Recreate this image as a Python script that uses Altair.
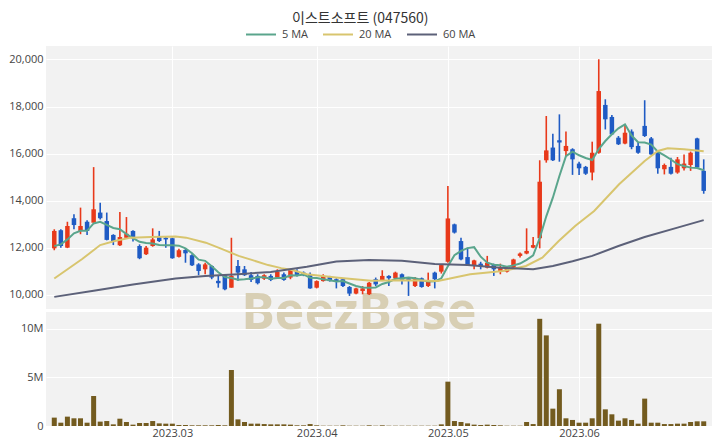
import altair as alt
import pandas as pd

title_text = "이스트소프트 (047560)"

opens = [11980, 12750, 12010, 13260, 12720, 13110, 13070, 13500, 13140, 12550,
         12110, 12430, 12720, 12080, 11730, 12080, 12460, 12430, 12410, 11620,
         11910, 11690, 11300, 11090, 11230, 10600, 10840, 10310, 11230, 11090,
         10840, 10810, 10690, 10810, 10740, 10880, 10740, 11020, 10950, 10880,
         10310, 10590, 10760, 10670, 10670, 10340, 10060, 10170, 10030, 10670,
         10620, 10810, 10710, 10880, 10710, 10380, 10710, 10380, 10950, 10990,
         11410, 13000, 12290, 11610, 11230, 11330, 11160, 11300, 11020, 10990,
         11160, 11660, 11760, 12010, 12410, 15720, 16260, 16570, 16110, 16190,
         15580, 15440, 15200, 16040, 18070, 17560, 16680, 16430, 16940, 16330,
         17180, 16650, 16040, 15340, 15440, 15200, 15380, 15520, 16650, 15270]
highs = [12790, 12790, 13110, 13430, 13710, 13170, 15430, 13920, 13500, 12580,
         13520, 13310, 12750, 12150, 12080, 12830, 12720, 12510, 12430, 11960,
         11970, 11730, 11350, 11370, 11260, 10810, 10880, 12430, 11490, 11230,
         10980, 10880, 10880, 10880, 11090, 10950, 11120, 11090, 11000, 10950,
         10620, 10880, 10810, 10710, 10710, 10380, 10310, 10380, 10550, 10740,
         11050, 10840, 10990, 10910, 10760, 10760, 10740, 10950, 10990, 11300,
         14630, 13030, 12430, 12010, 11500, 11410, 11660, 11330, 11330, 11200,
         11540, 11800, 12830, 12460, 15720, 17600, 16850, 17670, 16940, 16230,
         15660, 15480, 16510, 20010, 18310, 17640, 16750, 17250, 17030, 16470,
         18270, 16710, 16120, 15580, 15830, 15860, 15970, 16090, 16680, 15760]
lows = [11900, 12010, 11990, 12790, 12580, 12550, 13070, 13210, 12320, 12120,
        12080, 12430, 12270, 11520, 11700, 12050, 12250, 12010, 11540, 11590,
        11370, 11230, 10840, 10880, 10670, 10310, 10200, 10310, 10600, 10810,
        10550, 10450, 10640, 10590, 10690, 10600, 10670, 10780, 10800, 10270,
        10280, 10570, 10570, 10280, 10340, 9960, 10030, 10030, 10000, 10380,
        10590, 10380, 10670, 10450, 9960, 10340, 10310, 10340, 10280, 10910,
        11370, 12610, 11470, 11230, 11090, 11090, 11130, 10810, 10880, 10950,
        11130, 11590, 11730, 11980, 11980, 15620, 15690, 15660, 15900, 15100,
        15100, 15100, 14870, 16000, 17030, 16790, 16370, 16400, 16190, 16000,
        16710, 15950, 15150, 15120, 15120, 15150, 15290, 15270, 15380, 14300]
closes = [12720, 12080, 12930, 12970, 12930, 12720, 13640, 13260, 12340, 12270,
          12460, 12600, 12410, 11560, 12010, 12360, 12290, 12360, 11560, 11900,
          11770, 11260, 11020, 11300, 10740, 10500, 10240, 10810, 10950, 10840,
          10640, 10500, 10840, 10640, 10980, 10640, 11090, 10810, 10840, 10280,
          10590, 10810, 10590, 10590, 10380, 10060, 10280, 10280, 10520, 10450,
          10810, 10710, 10950, 10620, 10620, 10670, 10340, 10590, 10670, 11270,
          13250, 12650, 11510, 11270, 11470, 11230, 11370, 11090, 11160, 11160,
          11510, 11760, 11870, 12120, 14810, 16140, 15720, 16470, 16330, 15760,
          15380, 15150, 16040, 18660, 17460, 16820, 16400, 16890, 16280, 16040,
          16750, 15970, 15380, 15520, 15150, 15760, 15580, 16040, 15410, 14420]
volumes_m = [0.86, 0.34, 0.96, 0.79, 0.79, 0.34, 3.08, 0.45, 0.51, 0.17,
             0.75, 0.41, 0.14, 0.31, 0.31, 0.51, 0.27, 0.24, 0.24, 0.10,
             0.10, 0.07, 0.07, 0.07, 0.07, 0.10, 0.07, 5.75, 0.68, 0.41,
             0.24, 0.24, 0.20, 0.17, 0.17, 0.17, 0.14, 0.07, 0.07, 0.20,
             0.07, 0.03, 0.03, 0.03, 0.07, 0.03, 0.03, 0.03, 0.07, 0.03,
             0.07, 0.03, 0.03, 0.03, 0.03, 0.03, 0.03, 0.03, 0.03, 0.17,
             4.55, 0.51, 0.41, 0.27, 0.14, 0.10, 0.14, 0.10, 0.07, 0.03,
             0.03, 0.03, 0.41, 0.20, 11.0, 9.30, 1.78, 3.77, 0.79, 0.62,
             0.34, 0.34, 0.79, 10.5, 1.71, 1.20, 0.55, 0.79, 0.62, 0.24,
             2.81, 0.34, 0.34, 0.20, 0.20, 0.24, 0.24, 0.41, 0.48, 0.48]
ma5 = [12080, 12150, 12360, 12620, 12726, 12726, 13038, 13104, 12978, 12846,
       12794, 12586, 12416, 12260, 12208, 12188, 12126, 12116, 12116, 12094,
       11976, 11770, 11502, 11450, 11218, 10964, 10760, 10718, 10648, 10668,
       10696, 10748, 10754, 10692, 10720, 10720, 10838, 10832, 10872, 10732,
       10722, 10666, 10622, 10572, 10592, 10486, 10380, 10318, 10304, 10318,
       10468, 10554, 10688, 10708, 10742, 10714, 10640, 10568, 10578, 10708,
       11224, 11686, 11870, 11990, 12030, 11626, 11370, 11286, 11264, 11202,
       11258, 11336, 11492, 11684, 12414, 13340, 14132, 15052, 15894, 16084,
       15932, 15818, 15732, 16198, 16538, 16826, 17076, 17246, 16770, 16486,
       16472, 16386, 16084, 15932, 15754, 15554, 15476, 15408, 15388, 15300]
ma20_idx = [0, 4.2, 7, 9.2, 11.7, 14.7, 18.5, 20.1, 23.1, 25.6, 28.1, 30.1, 32.6,
            34.6, 36.1, 38.5, 43.3, 48.3, 53.2, 58.5, 63.4, 68.4, 71.9, 74.4,
            76.9, 79.4, 82.3, 86.1, 90, 92, 93.5, 96, 99]
ma20_val = [10700, 11515, 12120, 12290, 12435, 12465, 12480, 12435, 12222, 11950,
            11660, 11490, 11270, 11140, 11070, 10880, 10736, 10600, 10622, 10594,
            10877, 11019, 11231, 11585, 12293, 12930, 13567, 14699, 15690, 16115,
            16228, 16185, 16100]
ma60_idx = [0, 6, 12, 18.5, 23, 28, 33, 38.5, 43, 48, 53, 58, 63, 68, 73, 76,
            79, 82, 86, 90, 95, 99]
ma60_val = [9920, 10180, 10450, 10700, 10810, 10880, 10980, 11200, 11420, 11490,
            11450, 11320, 11270, 11160, 11090, 11230, 11430, 11660, 12080, 12460,
            12860, 13180]

month_tick_idx = [18, 40, 60, 80]
month_tick_labels = ["2023.03", "2023.04", "2023.05", "2023.06"]
price_ticks = [10000, 12000, 14000, 16000, 18000, 20000]
volume_ticks = [0, 5000000, 10000000]
ma_names = ["5 MA", "20 MA", "60 MA"]

RED = "#e8391a"
BLUE = "#1f5bc4"
MA_COLORS = ["#5aa58c", "#d8c56e", "#5c6179"]
VOL = "#735b1f"
FONT = "Open Sans"
WM = "#d8cfb4"

n = len(closes)
candles = pd.DataFrame({
    "idx": list(range(n)), "open": opens, "high": highs, "low": lows,
    "close": closes, "volume": [v * 1e6 for v in volumes_m],
})
ma_rows = []
for i, v in enumerate(ma5):
    ma_rows.append({"idx": i, "value": v, "series": "5 MA"})
for i, v in zip(ma20_idx, ma20_val):
    ma_rows.append({"idx": i, "value": v, "series": "20 MA"})
for i, v in zip(ma60_idx, ma60_val):
    ma_rows.append({"idx": i, "value": v, "series": "60 MA"})
ma_df = pd.DataFrame(ma_rows)

label_expr = "".join(f"datum.value == {i} ? '{l}' : " for i, l in zip(month_tick_idx, month_tick_labels)) + "''"

PW = 666
PH = 263
VH = 114

xscale = alt.Scale(domain=[-0.5, n - 0.5], nice=False, zero=False)
x_price = alt.X("idx:Q", scale=xscale,
                axis=alt.Axis(values=month_tick_idx, labels=False, ticks=False, domain=False,
                              title=None, grid=True))
x_vol = alt.X("idx:Q", scale=xscale,
              axis=alt.Axis(values=month_tick_idx, labelExpr=label_expr, ticks=False, domain=False,
                            title=None, grid=True, labelPadding=1))

yscale = alt.Scale(domain=[9405, 20573], nice=False, zero=False)
y_axis = alt.Axis(values=price_ticks, format=",d", title=None, ticks=False, domain=False,
                  labelPadding=3)
candle_color = alt.condition("datum.close >= datum.open", alt.value(RED), alt.value(BLUE))

base = alt.Chart(candles)
wm_price = alt.Chart(candles).transform_filter("datum.idx == 0").mark_text(
    text="BeezBase", font="Noto Sans", fontWeight="bold", fontSize=50, color=WM,
    baseline="middle", align="center", clip=True
).encode(x=alt.value(313), y=alt.value(268))

wicks = base.mark_rule(strokeWidth=1.6).encode(
    x=x_price, y=alt.Y("low:Q", scale=yscale, axis=y_axis), y2="high:Q", color=candle_color)
bodies = base.mark_bar(size=4.5).encode(
    x="idx:Q", y="open:Q", y2="close:Q", color=candle_color)
lines = alt.Chart(ma_df).mark_line(strokeWidth=2).encode(
    x="idx:Q", y="value:Q",
    color=alt.Color("series:N", sort=ma_names,
                    scale=alt.Scale(domain=ma_names, range=MA_COLORS),
                    legend=alt.Legend(orient="none", direction="horizontal", legendX=209,
                                      legendY=-17.5, title=None, symbolType="M-3,0H3",
                                      symbolSize=100, symbolStrokeWidth=2, labelFontSize=11,
                                      labelFont=FONT, labelColor="#444", columnPadding=11,
                                      labelOffset=15, padding=0)),
    detail="series:N", order="idx:Q")

price = alt.layer(wm_price, wicks, bodies, lines).properties(width=PW, height=PH)

wm_vol = alt.Chart(candles).transform_filter("datum.idx == 0").mark_text(
    text="BeezBase", font="Noto Sans", fontWeight="bold", fontSize=50, color=WM,
    baseline="middle", align="center", clip=True
).encode(x=alt.value(313), y=alt.value(2))
vbars = base.mark_bar(size=5, color=VOL).encode(
    x=x_vol,
    y=alt.Y("volume:Q", scale=alt.Scale(domain=[0, 11700000], nice=False),
            axis=alt.Axis(values=volume_ticks, title=None, ticks=False, domain=False,
                          labelPadding=3,
                          labelExpr="datum.value == 0 ? '0' : (datum.value / 1000000) + 'M'")))
vol = alt.layer(wm_vol, vbars).properties(width=PW, height=VH)

chart = alt.vconcat(price, vol, spacing=3).properties(
    title=alt.TitleParams(title_text, anchor="middle", fontSize=14, font="Noto Sans CJK KR",
                          fontWeight="normal", color="#333", offset=3),
    padding={"left": 0, "top": 3, "right": 0, "bottom": 0},
).configure_view(fill="#f2f2f2", stroke=None).configure_axis(
    gridColor="#ffffff", gridWidth=1, labelFont=FONT, labelFontSize=11, labelColor="#444"
).configure_axisY(minExtent=37, maxExtent=37).configure_concat(spacing=3)

chart.save("out.html", embed_options={"renderer": "svg", "actions": False})
